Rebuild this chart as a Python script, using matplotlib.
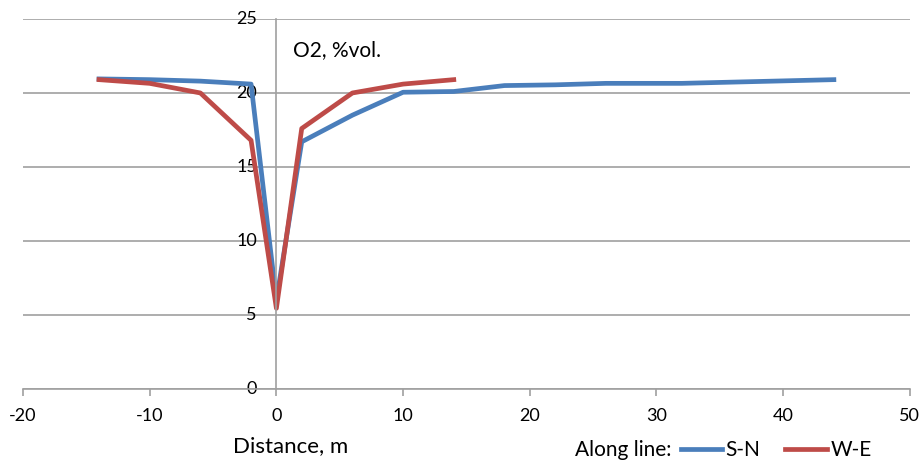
import numpy as np
import matplotlib.pyplot as plt
plt.rcParams['font.family'] = ['Lato', 'DejaVu Sans']
plt.rcParams['axes.unicode_minus'] = False

# O2 concentration along two measurement lines
dist_sn = [-14, -10, -6, -2, 0, 2, 6, 10, 14, 18, 22, 26, 32, 44]
o2_sn = [20.95, 20.9, 20.8, 20.6, 6.0, 16.7, 18.5, 20.05, 20.1, 20.5, 20.55, 20.65, 20.65, 20.9]
dist_we = [-14, -10, -6, -2, 0, 2, 6, 10, 14]
o2_we = [20.9, 20.65, 20.0, 16.8, 5.45, 17.6, 20.0, 20.6, 20.9]

fig = plt.figure(figsize=(9.2, 4.63), dpi=100)
ax = fig.add_axes([0.025, 0.160, 0.964, 0.799])

grey = '#a0a0a0'
l1, = ax.plot(dist_sn, o2_sn, color='#4a7ebb', lw=3.4, solid_joinstyle='round', label='S-N')
l2, = ax.plot(dist_we, o2_we, color='#be4b48', lw=3.4, solid_joinstyle='round', label='W-E')

ax.set_xlim(-20, 50)
ax.set_ylim(0, 25)
ax.set_xticks(np.arange(-20, 51, 10))
ax.set_yticks(np.arange(0, 26, 5))

ax.spines['top'].set_visible(False)
ax.spines['right'].set_visible(False)
ax.spines['left'].set_position(('data', 0))
ax.spines['left'].set_color(grey)
ax.spines['bottom'].set_color(grey)
ax.spines['left'].set_linewidth(1.2)
ax.spines['bottom'].set_linewidth(1.2)
ax.yaxis.grid(True, color=grey, lw=1.2)
ax.set_axisbelow(True)

ax.tick_params(axis='x', direction='out', length=5, width=1.2, color=grey, pad=9, labelsize=13)
ax.tick_params(axis='y', length=0, pad=14, labelsize=13)
for lab in ax.get_yticklabels():
    lab.set_verticalalignment('center')

ax.text(1.3, 22.9, 'O2, %vol.', fontsize=15, va='center', ha='left')
fig.text(0.316, 0.037, 'Distance, m', fontsize=16, ha='center', va='center')

fig.text(0.625, 0.028, 'Along line:', fontsize=15, ha='left', va='center')
fig.legend(handles=[l1, l2], loc='center left', bbox_to_anchor=(0.74, 0.028),
           ncol=2, frameon=False, fontsize=15, handlelength=2.0,
           handletextpad=0.15, columnspacing=1.2, borderpad=0, borderaxespad=0)

fig.savefig('out.png', dpi=100)
